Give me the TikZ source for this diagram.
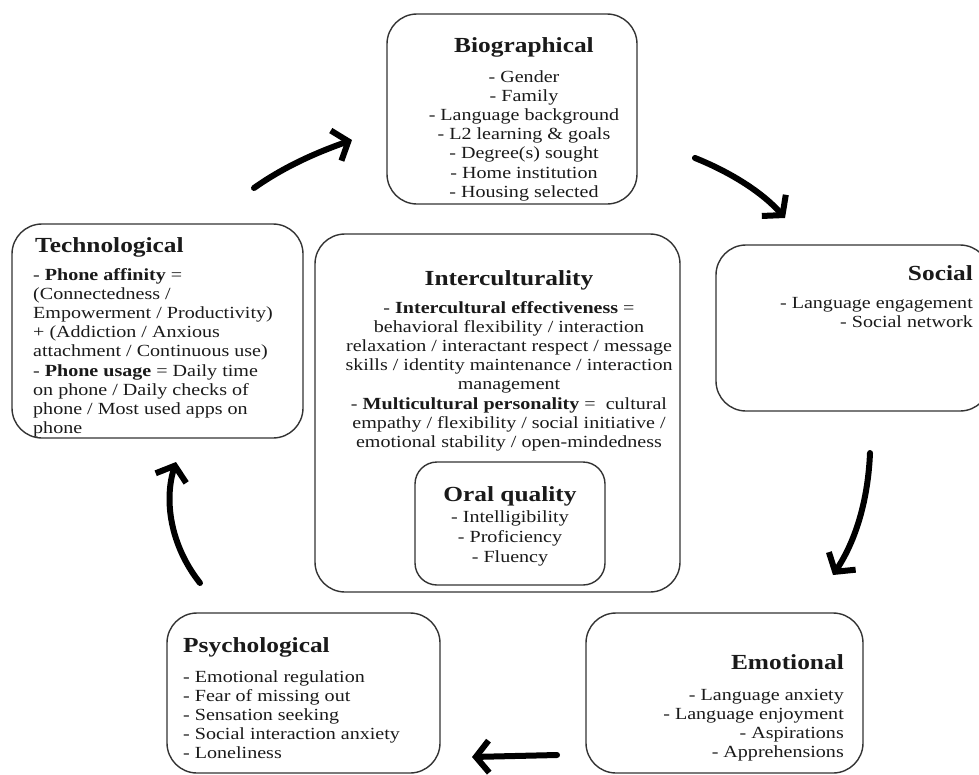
\documentclass[tikz,border=0pt]{standalone}
\usepackage{fontspec}
\setmainfont{Liberation Serif}[FakeStretch=1.18]
\usetikzlibrary{arrows.meta}
\definecolor{boxline}{HTML}{333333}
\definecolor{txt}{HTML}{1A1A1A}
\begin{document}
\begin{tikzpicture}[x=1pt,y=-1pt,
  box/.style={draw=boxline, line width=1.4pt, rounded corners=30pt, inner sep=0pt},
  ttl/.style={font=\fontsize{21.5}{24}\selectfont\bfseries, text=txt, inner sep=0pt, anchor=base},
  body/.style={font=\fontsize{17}{19.2}\selectfont, text=txt, inner sep=0pt, anchor=base},
  flow/.style={line width=6pt, line cap=round, -{Straight Barb[length=13pt,width=32pt]}}]
\useasboundingbox (0,0) rectangle (979,774);
% boxes
\node[box, minimum width=250pt, minimum height=190pt] (bio) at (512,109) {};
\node[box, minimum width=291pt, minimum height=214pt] (tech) at (157.5,331) {};
\node[box, minimum width=274pt, minimum height=166pt] (soc) at (853,328) {};
\node[box, minimum width=365pt, minimum height=358pt] (inter) at (497.5,413) {};
\node[box, rounded corners=22pt, minimum width=190pt, minimum height=123pt] (oral) at (510,523.5) {};
\node[box, minimum width=273pt, minimum height=160pt] (psy) at (303.5,693) {};
\node[box, minimum width=277pt, minimum height=160pt] (emo) at (724.5,693) {};
% texts (multi-line nodes anchored at the baseline of their last line)
\node[ttl] (biot) at (524,52) {Biographical};
\node[body, align=center] (biob) at (524,197.2) {- Gender\\- Family\\- Language background\\- L2 learning \& goals\\- Degree(s) sought\\- Home institution\\- Housing selected};
\node[ttl, anchor=base west] (techt) at (35,252) {Technological};
\node[body, anchor=base west, align=left] (techb) at (33,433.6) {- \textbf{Phone affinity} =\\(Connectedness /\\Empowerment / Productivity)\\+ (Addiction / Anxious\\attachment / Continuous use)\\- \textbf{Phone usage} = Daily time\\on phone / Daily checks of\\phone / Most used apps on\\phone};
\node[ttl, anchor=base east] (soct) at (973,280) {Social};
\node[body, anchor=base east, align=right] (socb) at (973,327.2) {- Language engagement\\- Social network};
\node[ttl] (intert) at (509,285) {Interculturality};
\node[body, align=center] (interb) at (509,447.4) {- \textbf{Intercultural effectiveness} =\\behavioral flexibility / interaction\\relaxation / interactant respect / message\\skills / identity maintenance / interaction\\management\\- \textbf{Multicultural personality} =~ cultural\\empathy / flexibility / social initiative /\\emotional stability / open-mindedness};
\node[ttl] (oralt) at (510,501) {Oral quality};
\node[body, align=center, font=\fontsize{17}{20}\selectfont] (oralb) at (510,562) {- Intelligibility\\- Proficiency\\- Fluency};
\node[ttl, anchor=base west] (psyt) at (183,652) {Psychological};
\node[body, anchor=base west, align=left] (psyb) at (183,758.8) {- Emotional regulation\\- Fear of missing out\\- Sensation seeking\\- Social interaction anxiety\\- Loneliness};
\node[ttl, anchor=base east] (emot) at (844,669) {Emotional};
\node[body, anchor=base east, align=right] (emob) at (844,757.6) {- Language anxiety\\- Language enjoyment\\- Aspirations\\- Apprehensions};
% arrow ends
\coordinate (a1s) at (254,188); \coordinate (a1e) at (352,140);
\coordinate (a2s) at (695,158); \coordinate (a2e) at (785,218);
\coordinate (a3s) at (870,453); \coordinate (a3e) at (833,575);
\coordinate (a4s) at (557,755); \coordinate (a4e) at (472,757);
\coordinate (a5s) at (200,583); \coordinate (a5e) at (176,462);
\draw[flow] (a1s) .. controls (285,166) and (318,152) .. (a1e);
\draw[flow] (a2s) .. controls (730,172) and (762,192) .. (a2e);
\draw[flow] (a3s) .. controls (868,500) and (856,540) .. (a3e);
\draw[flow] (a4s) -- (a4e);
\draw[flow] (a5s) .. controls (170,545) and (164,500) .. (a5e);
\end{tikzpicture}
\end{document}
